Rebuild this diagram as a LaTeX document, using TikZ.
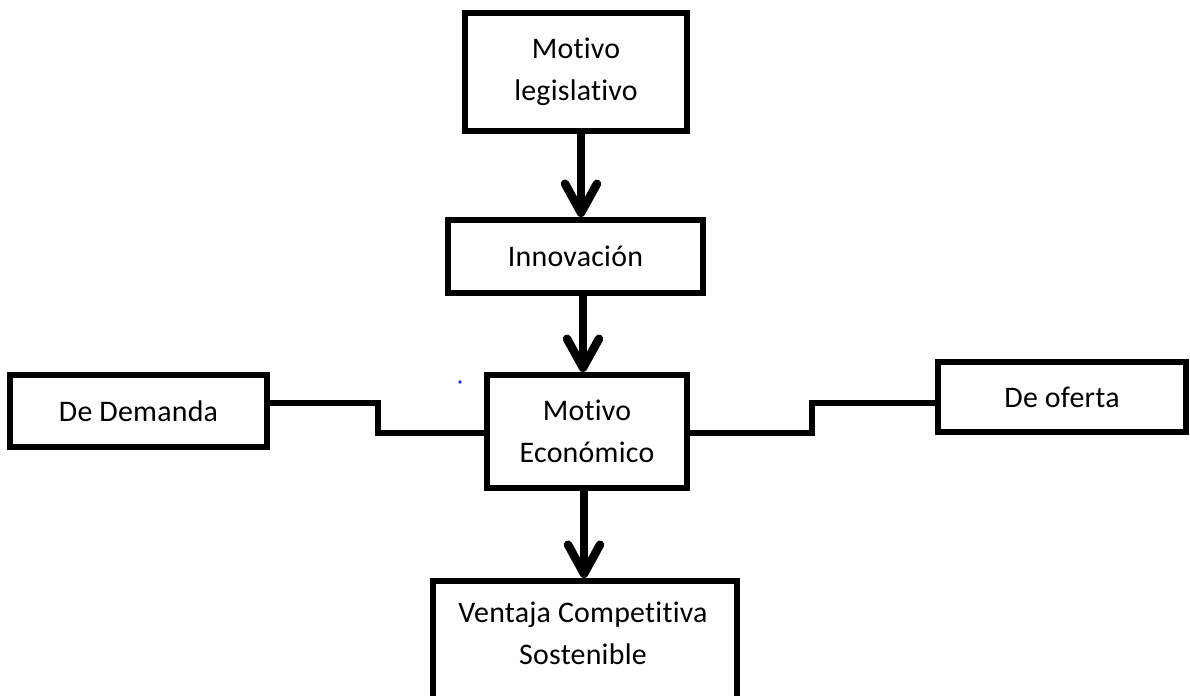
\documentclass[tikz,border=0pt]{standalone}
\usepackage{fontspec}
\setmainfont{Carlito}[Ligatures=NoCommon,LetterSpace=0.8]
\usetikzlibrary{arrows.meta}
\begin{document}
\begin{tikzpicture}[x=1bp,y=-1bp,
  box/.style={draw=black,line width=6bp,fill=white,inner sep=0pt,
    align=center,font=\fontsize{30}{42}\selectfont},
  link/.style={draw=black,line width=6bp,line join=miter},
  flow/.style={draw=black,line width=8.5bp,
    -{Straight Barb[length=29bp,width=32bp,line cap=round,line join=round]}},
  label/.style={align=center,inner sep=0pt,font=\fontsize{30}{42}\selectfont}]
  \useasboundingbox (0,0) rectangle (1190,696);
  \clip (0,0) rectangle (1190,696);

  % boxes
  \node[box,minimum width=222bp,minimum height=118bp] (legis) at (576,72) {Motivo\\legislativo};
  \node[box,minimum width=255bp,minimum height=73bp] (innov) at (575.5,256.5) {Innovación};
  \node[box,minimum width=200bp,minimum height=113bp] (econ) at (587,431.5) {Motivo\\Económico};
  \node[box,minimum width=257bp,minimum height=72bp] (demanda) at (138.5,411) {De Demanda};
  \node[box,minimum width=248bp,minimum height=70bp] (oferta) at (1062,397) {De oferta};
  \node[box,minimum width=304bp,minimum height=150bp,anchor=north] (ventaja) at (585,578) {};
  \node[label] (ventajatxt) at (583,633) {Ventaja Competitiva\\Sostenible};

  % stray blue point
  \fill[blue!85] (460,382) circle (1.8bp);

  % side connectors
  \draw[link] (demanda.east |- 0,403) -- (378,403) -- (378,433) -- (econ.west |- 0,433);
  \draw[link] (econ.east |- 0,433) -- (812,433) -- (812,403) -- (oferta.west |- 0,403);

  % main flow
  \draw[flow] (legis.south -| 581,0) -- (innov.north -| 581,0);
  \draw[flow] (innov.south -| 583,0) -- (econ.north -| 583,0);
  \draw[flow] (econ.south -| 584,0) -- (ventaja.north -| 584,0);
\end{tikzpicture}
\end{document}
